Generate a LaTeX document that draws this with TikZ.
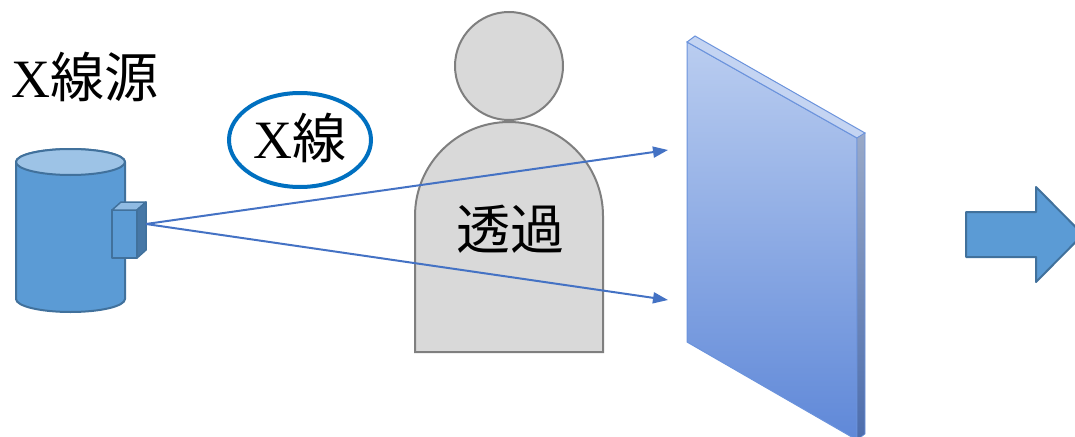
\documentclass[tikz,border=0pt]{standalone}
\usepackage{fontspec}
\setmainfont{Liberation Serif}
\newfontfamily\jp{Noto Sans CJK JP}
\usetikzlibrary{positioning,arrows.meta,shapes.geometric}
\definecolor{tube}{HTML}{5B9BD5}
\definecolor{tubetop}{HTML}{9DC3E6}
\definecolor{tubeline}{HTML}{41719C}
\definecolor{tubeside}{HTML}{4677A6}
\definecolor{ray}{HTML}{4472C4}
\definecolor{ring}{HTML}{0070C0}
\definecolor{body}{HTML}{D9D9D9}
\definecolor{bodyline}{HTML}{7F7F7F}
\definecolor{plateHi}{HTML}{BACDF0}
\definecolor{plateLo}{HTML}{5F88D8}
\definecolor{plateEdge}{HTML}{6B93DC}
\tikzset{big text/.style={font=\fontsize{54}{60}\selectfont,inner sep=0pt},
	tube part/.style={fill=tube,draw=tubeline,line width=2pt,line join=round},
	ray line/.style={draw=ray,line width=2pt,-{Triangle[length=15pt,width=11pt]}},
	body part/.style={fill=body,draw=bodyline,line width=2pt},}

\begin{document}
\begin{tikzpicture}[x=1pt,y=-1pt]
			\useasboundingbox (0,0) rectangle (1075,436);
			\clip (0,0) rectangle (1075,436);

			% x-ray source
			\draw[tube part] (16,162) -- (16,299) arc[start angle=180,end angle=0,x radius=54.5,y radius=13]
				-- (125,162) arc[start angle=0,end angle=-180,x radius=54.5,y radius=13] -- cycle;
			\draw[tube part,fill=tubetop] (70.5,162) ellipse[x radius=54.5,y radius=13];
			\draw[tube part,line width=1.5pt] (112,210) rectangle (137,258);
			\draw[tube part,line width=1.5pt,fill=tubetop!80!tube] (112,210) -- (121,202) -- (146,202) -- (137,210) -- cycle;
			\draw[tube part,line width=1.5pt,fill=tubeside] (137,210) -- (146,202) -- (146,250) -- (137,258) -- cycle;

			% person
			\node[circle,body part,minimum size=108pt] (head) at (509,66) {};
			\draw[body part] (415,352) -- (415,216) arc[start angle=180,end angle=360,radius=94] -- (603,352) -- cycle;
			\node[big text,font=\jp\fontsize{54}{60}\selectfont] (pass) at (510,229) {透過};

			% rays
			\coordinate (src) at (146,224);
			\coordinate (hitU) at (668,150);
			\coordinate (hitD) at (668,300);
			\draw[ray line] (src) -- (hitU);
			\draw[ray line] (src) -- (hitD);

			% detector plate
			\shade[top color=plateHi,bottom color=plateLo,draw=plateEdge,line width=1pt]
				(687,42) -- (857,138) -- (857,440) -- (687,342) -- cycle;
			\fill[plateHi!85!white,draw=plateEdge,line width=1pt] (687,42) -- (695,36) -- (865,133) -- (857,138) -- cycle;
			\shade[top color=plateLo!55!gray!70!white,bottom color=plateLo!80!black,draw=plateEdge,line width=0.6pt]
				(857,138) -- (865,133) -- (865,434) -- (857,440) -- cycle;

			% output arrow
			\draw[tube part] (966,212) -- (1036,212) -- (1036,187) -- (1083,234.5) -- (1036,282) -- (1036,257) -- (966,257) -- cycle;

			% labels
			\node[big text,anchor=base west] (srclabel) at (11,97) {X{\jp 線源}};
			\node[ellipse,draw=ring,line width=4pt,minimum width=142pt,minimum height=94pt,big text] (xray) at (300,140) {};
			\node[big text,anchor=center] at (300,138) {X{\jp 線}};
\end{tikzpicture}
\end{document}
